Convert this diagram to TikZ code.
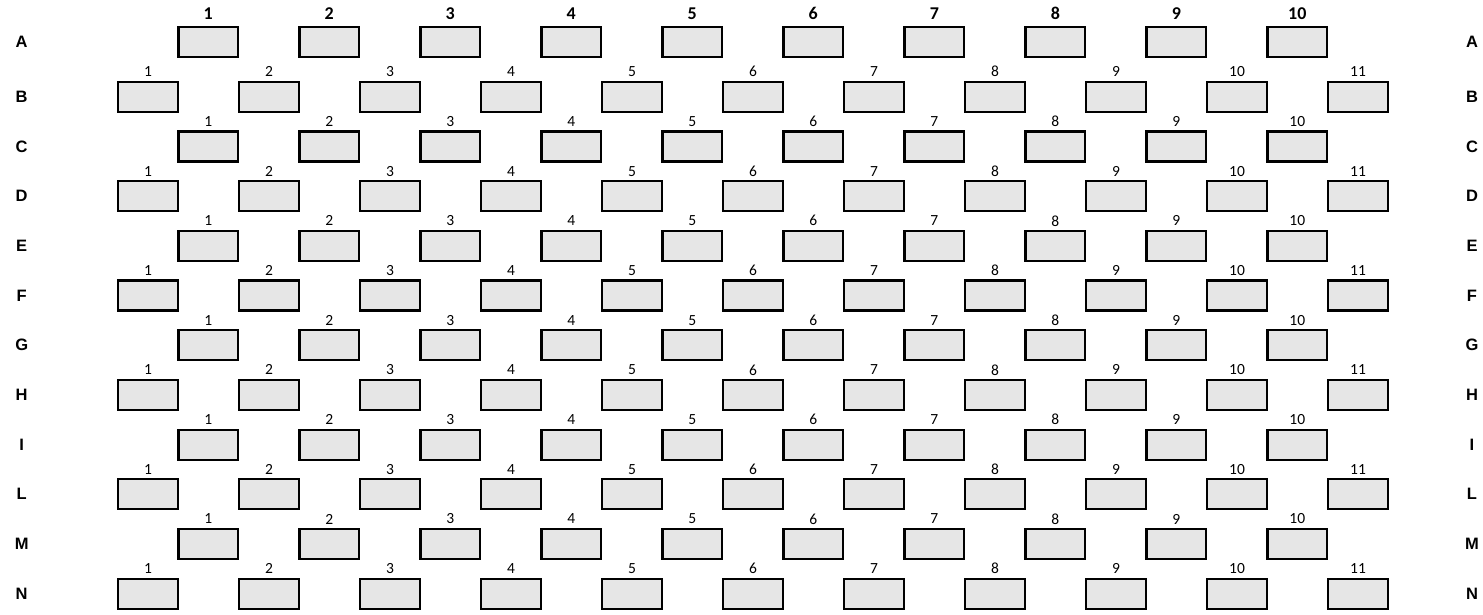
\documentclass[tikz,border=0pt]{standalone}
\usepackage{fontspec}
\setmainfont{Carlito}
\newfontfamily\arialfont{Liberation Sans}
\definecolor{boxgray}{HTML}{E6E6E6}
\begin{document}
\begin{tikzpicture}[x=1pt,y=-1pt,
  cell/.style={draw=black, line width=2.2pt, fill=boxgray, minimum width=59.8pt, minimum height=30pt, inner sep=0pt},
  collabel/.style={font=\fontsize{15.5}{17}\selectfont, inner sep=0pt},
  toplabel/.style={font=\bfseries\fontsize{18}{20}\selectfont, inner sep=0pt},
  rowlabel/.style={font=\arialfont\bfseries\fontsize{16.5}{18}\selectfont, inner sep=0pt}]
\useasboundingbox (0,0) rectangle (1483,614);
% row A with bold column numbers
\foreach \i in {1,...,10} {
  \node[cell] (A-\i) at ({208.3+121*(\i-1)},42) {};
  \node[toplabel] (A-\i-lab) at ({208.3+121*(\i-1)},13.3) {\i};
}
\node[rowlabel] (A-left) at (21.7,42) {A};
\node[rowlabel] (A-right) at (1472,42) {A};
% other rows
\foreach \r/\yy/\n/\xs in {B/96.7/11/148, C/146.4/10/208.3, D/196.1/11/148, E/245.8/10/208.3,
  F/295.5/11/148, G/345.2/10/208.3, H/394.9/11/148, I/444.6/10/208.3, L/494.3/11/148,
  M/544/10/208.3, N/593.7/11/148} {
  \foreach \i in {1,...,\n} {
    \node[cell] (\r-\i) at ({\xs+121*(\i-1)},\yy) {};
    \node[collabel] (\r-\i-lab) at ({\xs+121*(\i-1)},{\yy-25}) {\i};
  }
  \node[rowlabel] (\r-left) at (21.7,\yy) {\r};
  \node[rowlabel] (\r-right) at (1472,\yy) {\r};
}
\end{tikzpicture}
\end{document}
